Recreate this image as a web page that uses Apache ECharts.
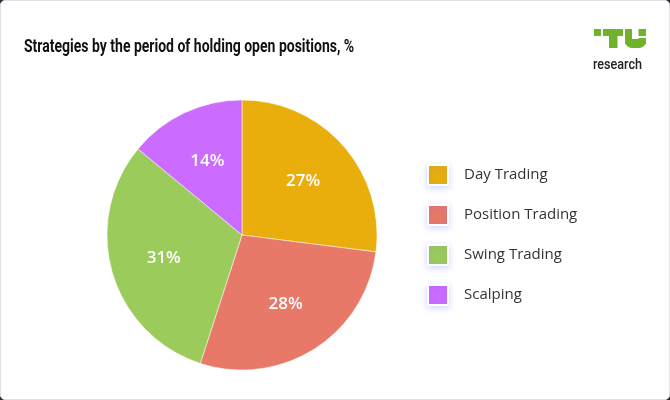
<!DOCTYPE html>
<html>
<head>
<meta charset="utf-8">
<script src="https://cdn.jsdelivr.net/npm/echarts@6/dist/echarts.min.js"></script>
<style>
  html, body { margin: 0; padding: 0; background: #2b2b2b; }
  /* card with thin grey border */
  .card {
    width: 668px;
    height: 398px;
    background: #fff;
    border: 1px solid #dde2e8;
    border-radius: 5px;
    position: relative;
  }
  #chart { width: 668px; height: 398px; }
</style>
</head>
<body>
<div class="card"><div id="chart"></div></div>
<script>
// data
const categories = ['Day Trading', 'Position Trading', 'Swing Trading', 'Scalping'];
const shares = [27, 28, 31, 14];
const colors = ['#E9AE0B', '#E87868', '#9BCB5B', '#CB6BFF'];
const titleText = 'Strategies by the period of holding open positions, %';

const pieData = categories.map((name, i) => ({
  name: name,
  value: shares[i],
  itemStyle: { color: colors[i] }
}));

const chart = echarts.init(document.getElementById('chart'));

const logoGreen = '#70B22B';

const option = {
  animation: false,
  legend: {
    orient: 'vertical',
    left: 426,
    top: 163,
    padding: 0,
    icon: 'rect',
    itemWidth: 20,
    itemHeight: 20,
    itemGap: 18,
    data: categories,
    itemStyle: {
      shadowBlur: 6,
      shadowColor: 'rgba(90, 110, 255, 0.25)',
      shadowOffsetY: 2
    },
    textStyle: {
      fontFamily: 'Open Sans',
      fontWeight: 500,
      fontSize: 15,
      color: '#333',
      padding: [0, 0, 0, 11]
    }
  },
  graphic: [
    // title, a bit condensed like the original
    {
      type: 'text',
      x: 23,
      y: 47,
      scaleX: 0.8,
      style: {
        text: titleText,
        x: 0,
        y: 0,
        verticalAlign: 'middle',
        fontFamily: 'Roboto',
        fontWeight: 'bold',
        fontSize: 17.5,
        fill: '#111'
      }
    },
    // TU logo
    { type: 'rect', shape: { x: 593, y: 28, width: 7, height: 7 }, style: { fill: logoGreen } },
    { type: 'rect', shape: { x: 602, y: 28, width: 20, height: 7 }, style: { fill: logoGreen } },
    { type: 'rect', shape: { x: 608, y: 28, width: 8.5, height: 19 }, style: { fill: logoGreen } },
    { type: 'rect', shape: { x: 624, y: 28, width: 7, height: 15 }, style: { fill: logoGreen } },
    { type: 'rect', shape: { x: 637.5, y: 37, width: 7.5, height: 6 }, style: { fill: logoGreen } },
    { type: 'rect', shape: { x: 624, y: 38, width: 21, height: 9, r: [0, 0, 7, 7] }, style: { fill: logoGreen } },
    { type: 'rect', shape: { x: 637.5, y: 28, width: 7.5, height: 7 }, style: { fill: logoGreen } },
    {
      type: 'text',
      x: 592,
      y: 64,
      scaleX: 0.9,
      style: {
        text: 'research',
        x: 0,
        y: 0,
        verticalAlign: 'middle',
        fontFamily: 'Roboto',
        fontWeight: 500,
        fontSize: 14,
        fill: '#222'
      }
    }
  ],
  series: [
    {
      // the slices
      type: 'pie',
      center: [241, 234],
      radius: 135,
      startAngle: 90,
      clockwise: true,
      silent: true,
      label: { show: false },
      labelLine: { show: false },
      itemStyle: { borderColor: '#fff', borderWidth: 0.5 },
      data: pieData
    },
    {
      // transparent copy, only used to put labels a bit further out
      type: 'pie',
      center: [241, 234],
      radius: 157,
      startAngle: 90,
      clockwise: true,
      silent: true,
      legendHoverLink: false,
      itemStyle: { color: 'rgba(0,0,0,0)' },
      label: {
        show: true,
        position: 'inside',
        formatter: '{c}%',
        fontFamily: 'Open Sans',
        fontWeight: 600,
        fontSize: 17,
        color: '#fff'
      },
      labelLine: { show: false },
      data: shares.map((v, i) => ({ name: categories[i] + ' ', value: v }))
    }
  ]
};

chart.setOption(option);
</script>
</body>
</html>
